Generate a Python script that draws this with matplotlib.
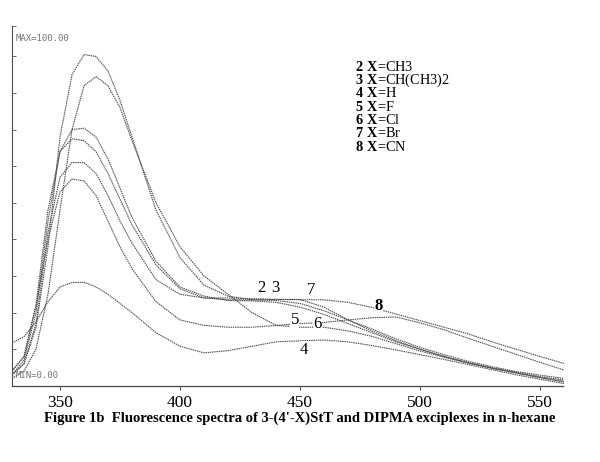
import numpy as np
import matplotlib
matplotlib.use('Agg')
import matplotlib.pyplot as plt

plt.rcParams['mathtext.fontset'] = 'custom'
plt.rcParams['mathtext.rm'] = 'Liberation Serif'
plt.rcParams['mathtext.bf'] = 'Liberation Serif:bold'

# wavelength (nm) and relative intensity (MAX=100)
wavelength = [330, 335, 340, 345, 350, 355, 360, 365, 370, 375, 380, 390, 400, 410,
              420, 430, 440, 450, 460, 470, 480, 490, 500, 510, 520, 530, 540, 550, 560]

x2 = [3, 6, 16, 38, 68, 85, 90.5, 90, 86, 78, 68, 48, 35, 27.5,
      24.5, 23.5, 23.3, 22.5, 20.5, 18, 15.5, 12.8, 10.5, 8.5, 6.7, 5.2, 3.9, 2.9, 2.0]
x3 = [3, 7, 20, 45, 64, 70, 70.4, 68, 62, 54, 46, 34, 27, 24.5,
      23.3, 23.2, 22.8, 21.5, 19.5, 17, 14.5, 12, 10, 8, 6.3, 4.9, 3.7, 2.5, 1.6]
x4 = [11.7, 13.4, 17.5, 23, 27, 28.2, 28.3, 27, 25, 22.5, 20, 14.5, 10.8, 9.0,
      9.6, 10.8, 12.0, 12.3, 12.5, 12, 11, 9.8, 8.5, 7.2, 5.8, 4.4, 3.0, 1.8, 0.6]
x5 = [2, 4, 10, 25, 48, 70, 82, 84.5, 82, 76, 67, 50, 38, 30,
      25, 20, 16.5, 16, 16, 15, 13.5, 11.5, 9.5, 7.8, 6.2, 4.8, 3.5, 2.2, 1.0]
x6 = [4, 8, 22, 40, 53, 56.5, 56, 52, 45, 38, 32, 23, 18, 16.5,
      16, 16, 16.5, 17, 17.3, 18, 18.6, 18.8, 17.2, 15.3, 13, 10.8, 8.6, 6.4, 4.3]
x7 = [4, 8, 22, 48, 64, 67.5, 67, 64, 58, 51, 44, 33, 26.5, 24,
      23.5, 23.5, 23.6, 23.6, 21.5, 18, 15, 12.3, 10, 8, 6.3, 4.8, 3.5, 2.3, 1.2]
x8 = [3, 6, 17, 42, 57, 61, 61, 58, 52, 45, 39, 29, 25, 24,
      24, 23.8, 23.6, 23.5, 23.5, 22.8, 21.4, 19.6, 17.8, 16, 14.2, 12, 10, 8, 6.1]

series = [x2, x3, x4, x5, x6, x7, x8]

fig = plt.figure(figsize=(6, 4.62), dpi=100)
ax = fig.add_axes([0.02, 0.165, 0.92, 0.792])

for y in series:
    ax.plot(wavelength, y, color='0.3', lw=0.8, ls=(0, (1.3, 0.7)))

ax.set_xlim(330, 560)
ax.set_ylim(0, 100)
ax.spines['top'].set_visible(False)
ax.spines['right'].set_visible(False)
ax.spines['left'].set_bounds(0, 98.4)
ax.spines['left'].set_color('0.3')
ax.spines['left'].set_linewidth(0.8)
ax.spines['bottom'].set_color('0.3')
ax.spines['bottom'].set_linewidth(0.9)
ax.spines['bottom'].set_linestyle((0, (1, 0.6)))

ax.set_xticks([350, 400, 450, 500, 550])
ax.set_xticklabels(['350', '400', '450', '500', '550'], family='Liberation Serif', fontsize=12.5)
ax.tick_params(axis='x', direction='out', length=3, width=0.7, color='0.3', pad=4)
ax.set_yticks([10, 20, 30, 40, 50, 60, 70, 80, 90, 98.4])
ax.set_yticklabels([])
ax.tick_params(axis='y', direction='in', length=3, width=0.7, color='0.4')

# printer annotations
ax.text(331.5, 95, 'MAX=100.00', family='DejaVu Sans Mono', fontsize=6.5, color='0.45', va='center')
ax.text(331.5, 2.7, 'MIN=0.00', family='DejaVu Sans Mono', fontsize=6.5, color='0.45', va='center')

# curve numbers
curve_labels = [('2', 433.8, 26.7, 'normal'), ('3', 439.6, 26.7, 'normal'),
                ('7', 454.5, 26.1, 'normal'), ('8', 482.9, 21.8, 'bold'),
                ('5', 447.9, 17.9, 'normal'), ('6', 457.2, 17.0, 'normal'),
                ('4', 451.7, 9.9, 'normal')]
for s, xx, yy, w in curve_labels:
    ax.text(xx, yy, s, family='Liberation Serif', fontsize=12, fontweight=w,
            ha='center', va='center',
            bbox=dict(facecolor='white', edgecolor='none', pad=0.3))

legend_lines = [r'$\mathbf{2\ X}$=CH3', r'$\mathbf{3\ X}$=CH(CH3)2', r'$\mathbf{4\ X}$=H',
                r'$\mathbf{5\ X}$=F', r'$\mathbf{6\ X}$=Cl', r'$\mathbf{7\ X}$=Br',
                r'$\mathbf{8\ X}$=CN']
for i, s in enumerate(legend_lines):
    fig.text(355 / 600, 1 - (66.7 + i * 13.33) / 462, s, family='Liberation Serif',
             fontsize=10.3, va='center', ha='left')

fig.text(0.5, 1 - 418 / 462,
         "Figure 1b  Fluorescence spectra of 3-(4'-X)StT and DIPMA exciplexes in n-hexane",
         family='Liberation Serif', fontweight='bold', fontsize=10.5, ha='center', va='center')

fig.savefig('out.png', dpi=100)
